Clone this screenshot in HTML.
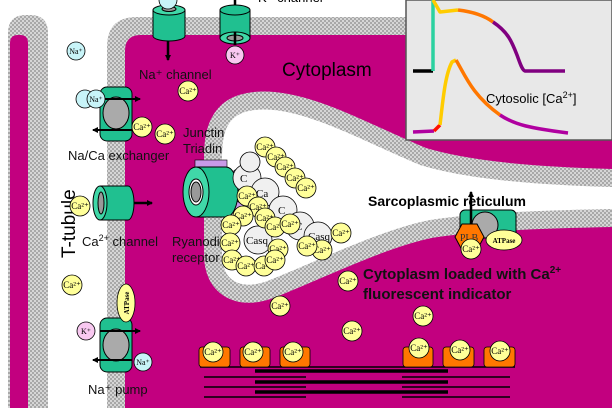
<!DOCTYPE html>
<html><head><meta charset="utf-8"><style>
html,body{margin:0;padding:0;background:#fff;width:612px;height:408px;overflow:hidden;}
svg{display:block;font-family:"Liberation Sans",sans-serif;}
.ca circle{fill:#ffff99;stroke:#000;stroke-width:0.8}
.ca text{font-family:"Liberation Serif",serif;font-size:9px;text-anchor:middle}
</style></head><body>
<svg width="612" height="408" viewBox="0 0 612 408" xmlns="http://www.w3.org/2000/svg">
<defs>
<pattern id="h" width="4" height="4" patternUnits="userSpaceOnUse">
<rect width="4" height="4" fill="#d6d6d6"/><rect width="2" height="2" fill="#a8a8a8"/><rect x="2" y="2" width="2" height="2" fill="#a8a8a8"/>
</pattern>
<marker id="ar" markerWidth="6" markerHeight="6" refX="5" refY="3" orient="auto" markerUnits="userSpaceOnUse" viewBox="0 0 6 6"><path d="M0,0 L6,3 L0,6z" fill="#000"/></marker>
</defs>
<rect width="612" height="408" fill="#fff"/>
<path d="M8,408 L8,33 Q8,15 26,15 L30,15 Q48,15 48,33 L48,408 Z" fill="url(#h)"/>
<path d="M10,408 L10,43 Q10,35 18,35 L20,35 Q28,35 28,43 L28,408 Z" fill="#c2007f"/>
<path d="M107,408 L107,47 Q107,17 137,17 L612,17 L612,408 Z" fill="url(#h)"/>
<path d="M125,408 L125,51 Q125,35 141,35 L612,35 L612,408 Z" fill="#c2007f"/>
<path d="M612,187 C540,185 470,180 420,165 C360,140 300,105 255,110 C225,113 222,135 222,160 L222,255 C222,280 240,292 270,280 C320,260 380,230 430,220 C480,212 560,210 612,209 Z" fill="#fff" stroke="url(#h)" stroke-width="36"/>
<path d="M612,187 C540,185 470,180 420,165 C360,140 300,105 255,110 C225,113 222,135 222,160 L222,255 C222,280 240,292 270,280 C320,260 380,230 430,220 C480,212 560,210 612,209 Z" fill="#fff"/>
<rect x="406" y="0" width="206" height="140" fill="#e8e8e8" stroke="#555" stroke-width="1.5"/>
<text x="430" y="-1" font-size="12" fill="#999">Sarcolemmal Action Potential</text>
<g fill="none" stroke-width="3.5" stroke-linejoin="round">
<path d="M413,71 L433,71" stroke="#000"/>
<path d="M433,71 L433,0" stroke="#2bd1a0"/>
<path d="M433,0 L440,12 L458,10" stroke="#ffcc00"/>
<path d="M458,10 C475,12 485,16 493,22" stroke="#ff7700"/>
<path d="M493,22 C508,32 512,42 517,55 C520,63 522,70 525,71 L565,71" stroke="#800080"/>
<path d="M413,132 L434,131" stroke="#b000a0"/>
<path d="M434,131 L440,125" stroke="#ff1100"/>
<path d="M440,125 C443,100 445,75 452,62 L456,60" stroke="#ffcc00"/>
<path d="M456,60 C465,75 472,95 500,115" stroke="#ff7700"/>
<path d="M500,115 C515,125 530,128 568,133" stroke="#b000a0"/>
</g>
<text x="486" y="103" font-size="13">Cytosolic [Ca<tspan font-size="9" dy="-5">2+</tspan><tspan dy="5">]</tspan></text>
<line x1="168" y1="35" x2="168" y2="60" stroke="#000" stroke-width="2.5" marker-end="url(#ar)"/>
<path d="M153,10 L153,36 A16,5 0 0 0 185,36 L185,10" fill="#20c090" stroke="#000"/>
<ellipse cx="169" cy="10" rx="16" ry="5" fill="#40d8a8" stroke="#000"/>
<ellipse cx="169" cy="9" rx="7" ry="2.5" fill="#999" stroke="#000"/>
<circle cx="168" cy="0" r="9" fill="#c8f4f8" stroke="#000" stroke-width="0.8"/>
<line x1="235" y1="0" x2="235" y2="45" stroke="#000" stroke-width="2.5"/>
<path d="M220,10 L220,38 L250,38 L250,10" fill="#20c090" stroke="#000"/>
<ellipse cx="235" cy="10" rx="15" ry="5" fill="#20c090" stroke="#000"/>
<ellipse cx="235" cy="38" rx="15" ry="6" fill="#40d8a8" stroke="#000"/>
<ellipse cx="235" cy="38" rx="8" ry="3" fill="#999" stroke="#000"/>
<line x1="235" y1="32" x2="235" y2="45" stroke="#000" stroke-width="2.5"/>
<circle cx="235" cy="55" r="9" fill="#f8c8f0" stroke="#000" stroke-width="0.8"/>
<text x="235" y="58" font-size="8" font-family="Liberation Serif" text-anchor="middle">K⁺</text>
<text x="258" y="2" font-size="13">K⁺ channel</text>
<circle cx="76" cy="51" r="9" fill="#c8f4f8" stroke="#000" stroke-width="0.8"/>
<text x="76" y="54" font-size="8" font-family="Liberation Serif" text-anchor="middle">Na⁺</text>
<text x="139" y="79" font-size="13" fill="#111">Na⁺ channel</text>
<text x="282" y="76" font-size="19">Cytoplasm</text>
<rect x="100" y="87" width="32" height="54" rx="7" fill="#20c090" stroke="#000"/>
<ellipse cx="116" cy="113" rx="13" ry="16" fill="#aaa" stroke="#000"/>
<line x1="100" y1="99" x2="140" y2="99" stroke="#000" stroke-width="2" marker-end="url(#ar)"/>
<line x1="132" y1="130" x2="93" y2="130" stroke="#000" stroke-width="2" marker-end="url(#ar)"/>
<circle cx="85" cy="99" r="9" fill="#c8f4f8" stroke="#000" stroke-width="0.8"/>
<circle cx="96" cy="99" r="9" fill="#c8f4f8" stroke="#000" stroke-width="0.8"/>
<text x="96" y="102" font-size="8" font-family="Liberation Serif" text-anchor="middle">Na⁺</text>
<text x="68" y="160" font-size="13" fill="#111">Na/Ca exchanger</text>
<text x="183" y="137" font-size="13" fill="#111">Junctin</text>
<text x="183" y="153" font-size="13" fill="#111">Triadin</text>
<text transform="translate(75,258) rotate(-90)" font-size="19">T-tubule</text>
<line x1="133" y1="203" x2="152" y2="203" stroke="#000" stroke-width="2.5" marker-end="url(#ar)"/>
<path d="M100,186 L128,186 A6,17 0 0 1 128,220 L100,220" fill="#20c090" stroke="#000"/>
<ellipse cx="100" cy="203" rx="7" ry="17" fill="#40d8a8" stroke="#000"/>
<ellipse cx="101" cy="203" rx="3" ry="11" fill="#999" stroke="#000"/>
<text x="82" y="246" font-size="13" fill="#111">Ca<tspan font-size="9" dy="-5">2+</tspan><tspan dy="5"> channel</tspan></text>
<rect x="195" y="160" width="32" height="10" fill="#c99ae8" stroke="#000" stroke-width="0.6"/>
<path d="M250,165 A25,25 0 0 0 238,212 L245,205 A16,16 0 0 1 252,172 Z" fill="#c99ae8" stroke="#000" stroke-width="0.6"/>
<path d="M196,167 L226,167 A12,25 0 0 1 226,217 L196,217" fill="#20c090" stroke="#000"/>
<ellipse cx="196" cy="192" rx="13" ry="25" fill="#40d8a8" stroke="#000"/>
<ellipse cx="196" cy="192" rx="7" ry="13" fill="#fff" stroke="#000"/>
<ellipse cx="196" cy="192" rx="5" ry="10" fill="#999" stroke="#000"/>
<text x="172" y="246" font-size="13" fill="#111">Ryanodine</text>
<text x="172" y="262" font-size="13" fill="#111">receptor</text>
<g fill="#f0f0f0" stroke="#000" stroke-width="0.8">
<circle cx="247" cy="178" r="14"/><circle cx="265" cy="192" r="14"/><circle cx="283" cy="210" r="14"/>
<circle cx="300" cy="226" r="14"/><circle cx="318" cy="236" r="14"/><circle cx="258" cy="240" r="14"/>
<circle cx="250" cy="162" r="10"/>
</g>
<g font-family="Liberation Serif" font-size="11">
<text x="240" y="182">C</text><text x="256" y="197">Ca</text><text x="278" y="214">C</text><text x="295" y="230">C</text><text x="308" y="240">Casq</text><text x="246" y="244">Casq</text>
</g>
<g class="ca">
<g transform="translate(265,147)"><circle r="10"/><text y="3">Ca²⁺</text></g>
<g transform="translate(276,157)"><circle r="10"/><text y="3">Ca²⁺</text></g>
<g transform="translate(285,167)"><circle r="10"/><text y="3">Ca²⁺</text></g>
<g transform="translate(295,178)"><circle r="10"/><text y="3">Ca²⁺</text></g>
<g transform="translate(306,188)"><circle r="10"/><text y="3">Ca²⁺</text></g>
<g transform="translate(247,196)"><circle r="10"/><text y="3">Ca²⁺</text></g>
<g transform="translate(258,207)"><circle r="10"/><text y="3">Ca²⁺</text></g>
<g transform="translate(265,218)"><circle r="10"/><text y="3">Ca²⁺</text></g>
<g transform="translate(243,216)"><circle r="10"/><text y="3">Ca²⁺</text></g>
<g transform="translate(275,227)"><circle r="10"/><text y="3">Ca²⁺</text></g>
<g transform="translate(290,224)"><circle r="10"/><text y="3">Ca²⁺</text></g>
<g transform="translate(322,250)"><circle r="10"/><text y="3">Ca²⁺</text></g>
<g transform="translate(341,233)"><circle r="10"/><text y="3">Ca²⁺</text></g>
<g transform="translate(307,246)"><circle r="10"/><text y="3">Ca²⁺</text></g>
<g transform="translate(231,225)"><circle r="10"/><text y="3">Ca²⁺</text></g>
<g transform="translate(230,243)"><circle r="10"/><text y="3">Ca²⁺</text></g>
<g transform="translate(232,260)"><circle r="10"/><text y="3">Ca²⁺</text></g>
<g transform="translate(246,266)"><circle r="10"/><text y="3">Ca²⁺</text></g>
<g transform="translate(264,266)"><circle r="10"/><text y="3">Ca²⁺</text></g>
<g transform="translate(278,249)"><circle r="10"/><text y="3">Ca²⁺</text></g>
<g transform="translate(275,260)"><circle r="10"/><text y="3">Ca²⁺</text></g>
<g transform="translate(188,91)"><circle r="10"/><text y="3">Ca²⁺</text></g>
<g transform="translate(142,127)"><circle r="10"/><text y="3">Ca²⁺</text></g>
<g transform="translate(165,134)"><circle r="10"/><text y="3">Ca²⁺</text></g>
<g transform="translate(80,206)"><circle r="10"/><text y="3">Ca²⁺</text></g>
<g transform="translate(72,285)"><circle r="10"/><text y="3">Ca²⁺</text></g>
<g transform="translate(280,306)"><circle r="10"/><text y="3">Ca²⁺</text></g>
<g transform="translate(348,281)"><circle r="10"/><text y="3">Ca²⁺</text></g>
<g transform="translate(423,316)"><circle r="10"/><text y="3">Ca²⁺</text></g>
<g transform="translate(352,331)"><circle r="10"/><text y="3">Ca²⁺</text></g>
</g>
<rect x="460" y="210" width="56" height="28" rx="5" fill="#20c090" stroke="#000"/>
<circle cx="485" cy="225" r="13" fill="#aaa" stroke="#000"/>
<line x1="471" y1="245" x2="471" y2="192" stroke="#000" stroke-width="2.5" marker-end="url(#ar)"/>
<polygon points="455,237 462,224 477,224 484,237 477,250 462,250" fill="#ff7700" stroke="#000"/>
<text x="469" y="241" font-size="10" font-family="Liberation Serif" text-anchor="middle" fill="#333">PLB</text>
<ellipse cx="504" cy="240" rx="18" ry="10" fill="#ffff99" stroke="#000" stroke-width="0.8"/>
<text x="504" y="243" font-size="7" font-weight="bold" font-family="Liberation Serif" text-anchor="middle">ATPase</text>
<g class="ca"><g transform="translate(471,249)"><circle r="10"/><text y="3">Ca²⁺</text></g></g>
<text x="368" y="206" font-size="14" font-weight="bold">Sarcoplasmic reticulum</text>
<text x="363" y="279" font-size="15" font-weight="bold" fill="#111">Cytoplasm loaded with Ca<tspan font-size="10" dy="-6">2+</tspan></text>
<text x="363" y="299" font-size="15" font-weight="bold" fill="#111">fluorescent indicator</text>
<rect x="100" y="318" width="32" height="54" rx="7" fill="#20c090" stroke="#000"/>
<ellipse cx="116" cy="345" rx="13" ry="16" fill="#aaa" stroke="#000"/>
<line x1="100" y1="331" x2="140" y2="331" stroke="#000" stroke-width="2" marker-end="url(#ar)"/>
<line x1="132" y1="360" x2="93" y2="360" stroke="#000" stroke-width="2" marker-end="url(#ar)"/>
<circle cx="86" cy="331" r="9" fill="#f8c8f0" stroke="#000" stroke-width="0.8"/>
<text x="86" y="334" font-size="8" font-family="Liberation Serif" text-anchor="middle">K⁺</text>
<circle cx="143" cy="362" r="9" fill="#c8f4f8" stroke="#000" stroke-width="0.8"/>
<text x="143" y="365" font-size="8" font-family="Liberation Serif" text-anchor="middle">Na⁺</text>
<ellipse cx="126" cy="303" rx="9" ry="19" fill="#ffff99" stroke="#000" stroke-width="0.8"/>
<text transform="translate(129,303) rotate(-90)" font-size="7" font-weight="bold" font-family="Liberation Serif" text-anchor="middle">ATPase</text>
<text x="88" y="394" font-size="13" fill="#111">Na⁺ pump</text>
<g stroke="#000">
<line x1="200" y1="367" x2="515" y2="367" stroke-width="1.5"/>
<line x1="255" y1="371" x2="448" y2="371" stroke-width="3.5"/>
<line x1="255" y1="382" x2="448" y2="382" stroke-width="3.5"/>
<line x1="255" y1="392" x2="448" y2="392" stroke-width="3.5"/>
<line x1="204" y1="377" x2="306" y2="377" stroke-width="1.5"/>
<line x1="204" y1="387" x2="306" y2="387" stroke-width="1.5"/>
<line x1="204" y1="397" x2="306" y2="397" stroke-width="1.5"/>
<line x1="402" y1="377" x2="510" y2="377" stroke-width="1.5"/>
<line x1="402" y1="387" x2="510" y2="387" stroke-width="1.5"/>
<line x1="402" y1="397" x2="510" y2="397" stroke-width="1.5"/>
</g>
<g fill="#ff7700" stroke="#000" stroke-width="0.8">
<rect x="199" y="347" width="31" height="20" rx="3"/><rect x="240" y="347" width="30" height="20" rx="3"/><rect x="280" y="347" width="30" height="20" rx="3"/>
<rect x="403" y="347" width="30" height="20" rx="3"/><rect x="443" y="347" width="31" height="20" rx="3"/><rect x="484" y="347" width="31" height="20" rx="3"/>
</g>
<g class="ca">
<g transform="translate(213,352)"><circle r="10"/><text y="3">Ca²⁺</text></g>
<g transform="translate(253,352)"><circle r="10"/><text y="3">Ca²⁺</text></g>
<g transform="translate(293,352)"><circle r="10"/><text y="3">Ca²⁺</text></g>
<g transform="translate(419,348)"><circle r="10"/><text y="3">Ca²⁺</text></g>
<g transform="translate(460,350)"><circle r="10"/><text y="3">Ca²⁺</text></g>
<g transform="translate(500,351)"><circle r="10"/><text y="3">Ca²⁺</text></g>
</g>
</svg>
</body></html>
